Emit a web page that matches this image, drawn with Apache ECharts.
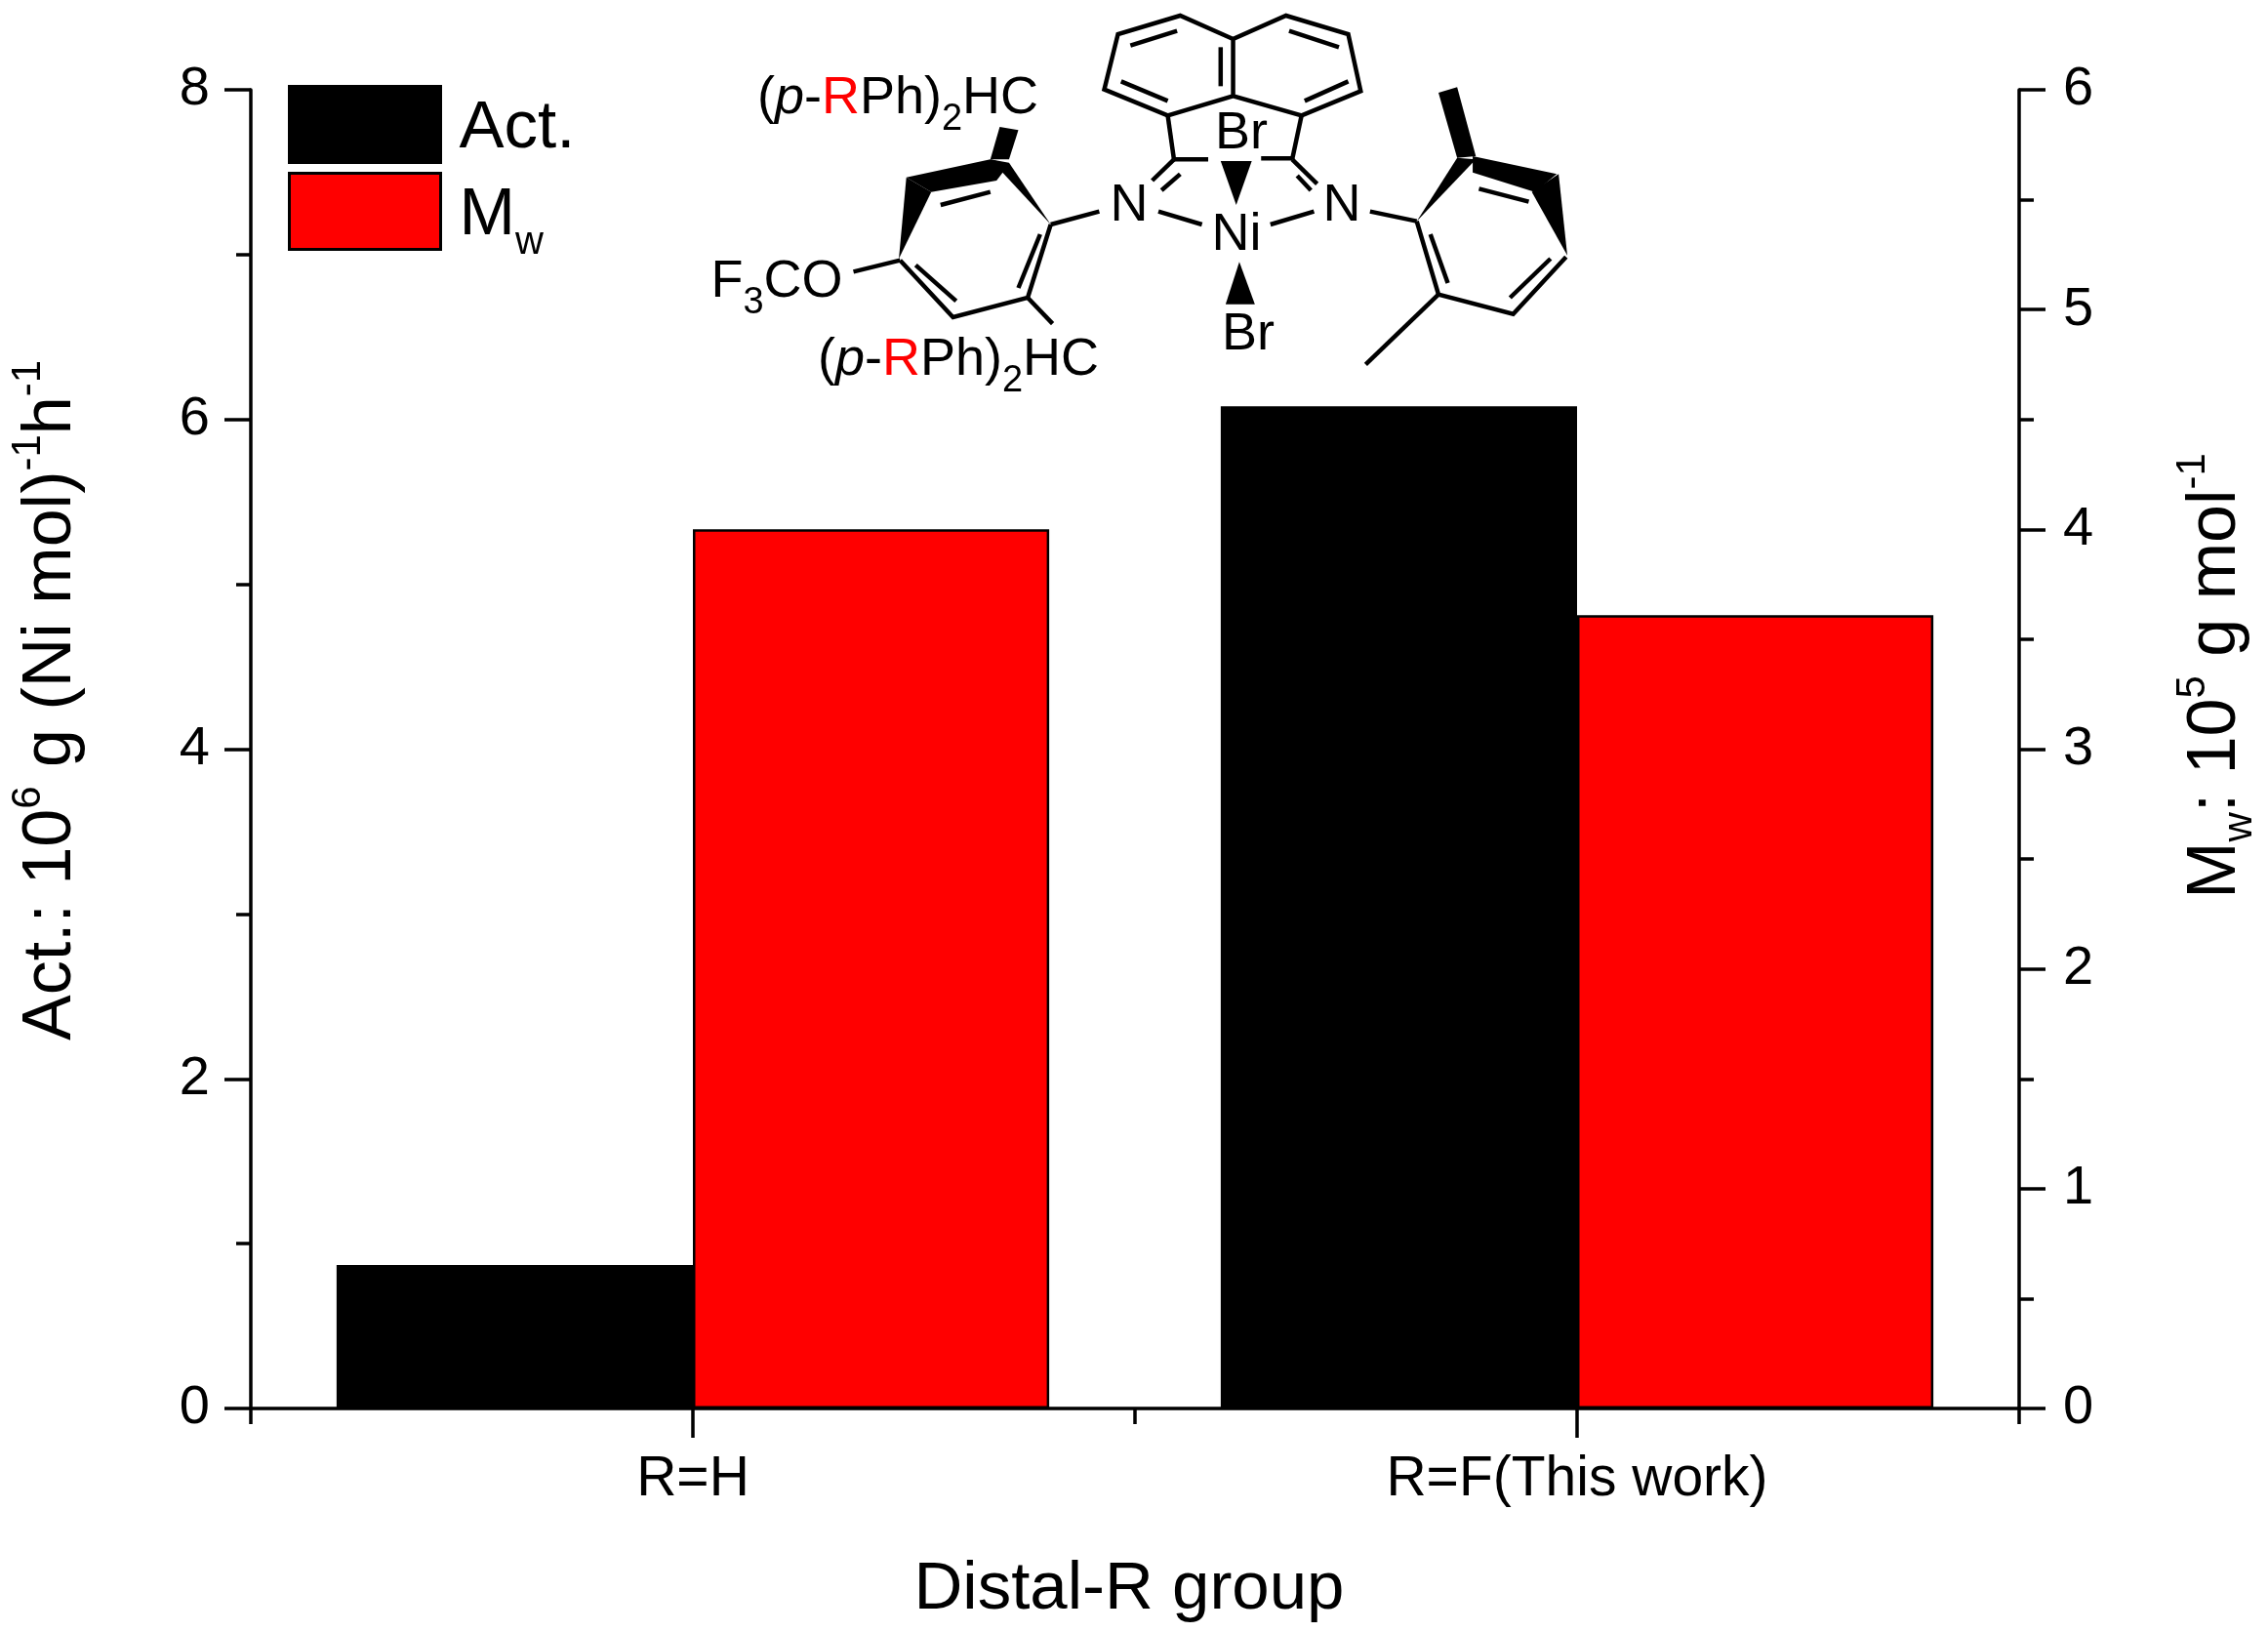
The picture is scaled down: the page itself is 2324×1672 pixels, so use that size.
<!DOCTYPE html>
<html>
<head>
<meta charset="utf-8">
<script src="https://cdn.jsdelivr.net/npm/echarts@6/dist/echarts.min.js"></script>
<style>html,body{margin:0;padding:0;background:#fff}#c{width:2324px;height:1672px}</style>
</head>
<body>
<div id="c"></div>
<script>
const categories = ['R=H', 'R=F(This work)'];
const actValues = [0.87, 6.08];
const mwValues = [4.0, 3.61];
const FONT = '"Liberation Sans", Arial, sans-serif';

// Molecule drawing: annotation artwork, given in a local drawing frame
const mx = v => 680 + v / 1.568;
const my = v => v / 3;
const bondPaths = [
  [[915,120],[830,48],[730,105],[708,275],[810,355],[915,295],[1025,355],[1120,280],[1100,105],[1000,48],[915,120],[915,295]],
  [[825,95],[750,140]], [[735,250],[810,310]], [[895,145],[895,265]], [[1005,95],[1085,145]], [[1100,250],[1030,310]],
  [[810,355],[820,490]], [[1025,355],[1010,490]], [[820,490],[875,490]], [[960,487],[1010,487]],
  [[820,490],[785,555]], [[830,535],[800,585]], [[1010,490],[1050,565]], [[1018,540],[1040,585]],
  [[795,650],[865,690]], [[1045,650],[975,690]], [[700,650],[622,690]], [[1135,650],[1210,680]],
  [[622,690],[585,915],[465,975],[380,800]], [[605,720],[570,885]], [[470,925],[405,815]],
  [[445,630],[525,590]], [[585,915],[625,995]], [[380,800],[305,835]],
  [[1210,680],[1245,905],[1365,965],[1450,790]], [[1232,720],[1260,870]], [[1360,915],[1425,795]],
  [[1310,580],[1390,620]], [[1245,905],[1128,1120]]
];
const wedgeShapes = [
  [[920,630],[895,495],[945,495]], [[925,805],[903,935],[950,935]],
  [[378,795],[390,545],[430,590]], [[390,545],[525,490],[555,505],[535,555],[430,590]],
  [[622,690],[525,490],[555,500]], [[540,390],[570,400],[555,490],[525,490]],
  [[1210,680],[1275,485],[1305,490]], [[1300,480],[1435,535],[1400,590],[1300,530]],
  [[1452,785],[1395,590],[1438,535]], [[1245,285],[1275,268],[1305,480],[1275,485]]
];
const txt = { fontFamily: FONT, fontSize: 54, fill: '#000', lineHeight: 60 };
const chemRich = {
  t: { fontFamily: FONT, fontSize: 54, fill: '#000', lineHeight: 82 },
  i: { fontFamily: FONT, fontSize: 54, fill: '#000', fontStyle: 'italic', lineHeight: 82 },
  r: { fontFamily: FONT, fontSize: 54, fill: '#f00', lineHeight: 82 },
  s: { fontFamily: FONT, fontSize: 38, fill: '#000', verticalAlign: 'bottom', lineHeight: 38 }
};
const chemLabels = [
  ['Br', 1272, 137], ['Ni', 1267, 241], ['Br', 1279, 343], ['N', 1157, 211], ['N', 1375, 211],
  ['{t|(}{i|p}{t|-}{r|R}{t|Ph)}{s|2}{t|HC}', 920, 101],
  ['{t|(}{i|p}{t|-}{r|R}{t|Ph)}{s|2}{t|HC}', 982, 369],
  ['{t|F}{s|3}{t|CO}', 796, 289]
];
const molecule = [];
bondPaths.forEach(p => molecule.push({
  type: 'polyline', silent: true,
  shape: { points: p.map(q => [mx(q[0]), my(q[1])]) },
  style: { stroke: '#000', lineWidth: 4.5, fill: null, lineJoin: 'miter' }
}));
wedgeShapes.forEach(p => molecule.push({
  type: 'polygon', silent: true,
  shape: { points: p.map(q => [mx(q[0]), my(q[1])]) },
  style: { fill: '#000', stroke: null }
}));
chemLabels.forEach(l => molecule.push({
  type: 'text', silent: true, x: l[1], y: l[2],
  style: Object.assign({}, txt, { text: l[0], rich: chemRich, align: 'center', verticalAlign: 'middle' })
}));

const axisLine = { show: true, onZero: false, lineStyle: { color: '#000', width: 3.5 } };
const tickStyle = { color: '#000', width: 3.5 };
const labelStyle = { color: '#000', fontFamily: FONT, fontSize: 56 };
const titleRich = {
  a: { fontFamily: FONT, fontSize: 70, color: '#000', lineHeight: 90 },
  u: { fontFamily: FONT, fontSize: 42, color: '#000', verticalAlign: 'top', lineHeight: 64 },
  d: { fontFamily: FONT, fontSize: 42, color: '#000', verticalAlign: 'bottom', lineHeight: 52 }
};

const chart = echarts.init(document.getElementById('c'), null, { renderer: 'canvas' });
chart.setOption({
  animation: false,
  backgroundColor: '#fff',
  textStyle: { fontFamily: FONT },
  grid: { left: 257, right: 255, top: 92, bottom: 229, containLabel: false, outerBoundsMode: 'none' },
  legend: {
    show: true, left: 295, top: 87, padding: 0, orient: 'vertical', itemWidth: 155, itemHeight: 78, itemGap: 8, selectedMode: false,
    icon: 'rect',
    textStyle: { color: '#000', fontFamily: FONT, fontSize: 69, padding: [8, 0, 0, 14],
      rich: { m: { fontFamily: FONT, fontSize: 69, color: '#000', lineHeight: 96 },
              w: { fontFamily: FONT, fontSize: 40, color: '#000', verticalAlign: 'bottom', lineHeight: 30 } } },
    formatter: n => n === 'Mw' ? '{m|M}{w|w}' : n,
    data: [
      { name: 'Act.', itemStyle: { color: '#000', borderColor: '#000', borderWidth: 3 } },
      { name: 'Mw', itemStyle: { color: '#f00', borderColor: '#000', borderWidth: 3 } }
    ]
  },
  xAxis: [
    {
      type: 'category', position: 'bottom', data: categories,
      name: 'Distal-R group', nameLocation: 'middle', nameGap: 151,
      nameTextStyle: { color: '#000', fontFamily: FONT, fontSize: 69, padding: [0, 12, 0, 0] },
      axisLine: axisLine,
      axisTick: { show: true, length: 16, alignWithLabel: false, lineStyle: tickStyle },
      axisLabel: Object.assign({}, labelStyle, { margin: 45, fontSize: 57 }),
      splitLine: { show: false }
    },
    {
      type: 'category', position: 'bottom', data: categories,
      axisLine: { show: false, onZero: false },
      axisTick: { show: true, length: 30, alignWithLabel: true, lineStyle: tickStyle },
      axisLabel: { show: false }, splitLine: { show: false }
    }
  ],
  yAxis: [
    {
      type: 'value', position: 'left', min: 0, max: 8, interval: 2,
      name: '{a|Act.: 10}{u|6}{a| g (Ni mol)}{u|-1}{a|h}{u|-1}',
      nameLocation: 'middle', nameRotate: 90, nameGap: 159,
      nameTextStyle: { rich: titleRich, padding: [0, 0, 0, 100] },
      axisLine: axisLine,
      axisTick: { show: true, length: 27, lineStyle: tickStyle },
      minorTick: { show: true, splitNumber: 2, length: 15, lineStyle: tickStyle },
      axisLabel: Object.assign({}, labelStyle, { margin: 42 }),
      splitLine: { show: false }, minorSplitLine: { show: false }
    },
    {
      type: 'value', position: 'right', min: 0, max: 6, interval: 1,
      name: '{a|M}{d|w}{a|: 10}{u|5}{a| g mol}{u|-1}',
      nameLocation: 'middle', nameRotate: 90, nameGap: 157,
      nameTextStyle: { rich: titleRich, padding: [0, 0, 0, 150] },
      axisLine: axisLine,
      axisTick: { show: true, length: 27, lineStyle: tickStyle },
      minorTick: { show: true, splitNumber: 2, length: 15, lineStyle: tickStyle },
      axisLabel: Object.assign({}, labelStyle, { margin: 45 }),
      splitLine: { show: false }, minorSplitLine: { show: false }
    }
  ],
  series: [
    { name: 'Act.', type: 'bar', xAxisIndex: 0, yAxisIndex: 0, data: actValues, barWidth: '40.3%', barGap: 0,
      itemStyle: { color: '#000', borderColor: '#000', borderWidth: 2 } },
    { name: 'Mw', type: 'bar', xAxisIndex: 0, yAxisIndex: 1, data: mwValues, barWidth: '40.3%', barGap: 0,
      itemStyle: { color: '#f00', borderColor: '#000', borderWidth: 2.5 } }
  ],
  graphic: { elements: [{ type: 'group', z: 10, children: molecule }] }
});
</script>
</body>
</html>
